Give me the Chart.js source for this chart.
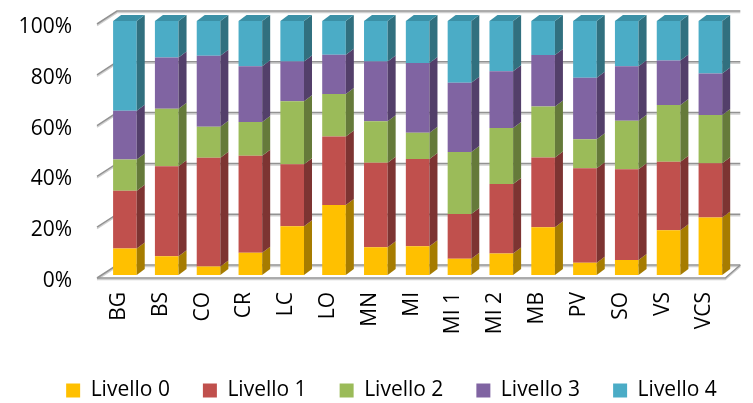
<!DOCTYPE html>
<html>
<head>
<meta charset="utf-8">
<script src="https://cdn.jsdelivr.net/npm/chart.js@4"></script>
<style>
  body { margin: 0; background: #fff; }
  #wrap { width: 753px; height: 403px; }
</style>
</head>
<body>
<div id="wrap"><canvas id="levelsCanvas"></canvas></div>
<script>
const categories = ["BG", "BS", "CO", "CR", "LC", "LO", "MN", "MI", "MI 1", "MI 2", "MB", "PV", "SO", "VS", "VCS"];
const livello0 = [10.4, 7.4, 3.3, 8.8, 19.2, 27.6, 10.9, 11.3, 6.4, 8.5, 18.8, 4.8, 5.9, 17.6, 22.6];
const livello1 = [22.8, 35.4, 42.9, 38.1, 24.4, 26.9, 33.3, 34.4, 17.6, 27.3, 27.5, 37.2, 35.7, 27.0, 21.4];
const livello2 = [12.3, 22.7, 12.2, 13.3, 24.8, 16.8, 16.3, 10.3, 24.4, 22.1, 20.0, 11.4, 19.1, 22.3, 19.0];
const livello3 = [19.2, 20.1, 27.9, 22.0, 15.7, 15.4, 23.6, 27.5, 27.3, 22.3, 20.3, 24.3, 21.5, 17.5, 16.3];
const livello4 = [35.3, 14.4, 13.7, 17.8, 15.9, 13.3, 15.9, 16.5, 24.3, 19.8, 13.4, 22.3, 17.8, 15.6, 20.7];
const yTicks = [0, 20, 40, 60, 80, 100];

const seriesNames = ["Livello 0", "Livello 1", "Livello 2", "Livello 3", "Livello 4"];
const frontColors = ["#FFC000", "#C0504D", "#9BBB59", "#8064A2", "#4BACC6"];
const sideColors = ["#A67C00", "#7D3432", "#657A3A", "#533F6A", "#31707F"];
const topColor = "#3B90A6";

const FONT = "'Open Sans', sans-serif";
const D = 8, H = 6; // bar depth offsets

// back wall + floor drawn from the y scale
function wallPath(ctx, a, ys, dy) {
  yTicks.forEach(v => {
    const py = ys.getPixelForValue(v) + dy;
    ctx.beginPath();
    ctx.moveTo(a.left - 7, py + 3);
    ctx.lineTo(a.left + 13, py - 10);
    ctx.lineTo(a.right + 9, py - 10);
    ctx.stroke();
  });
  const p0 = ys.getPixelForValue(0) + dy;
  ctx.beginPath();
  ctx.moveTo(a.left - 7, p0 + 3);
  ctx.lineTo(a.right - 6, p0 + 3);
  ctx.lineTo(a.right + 9, p0 - 10);
  ctx.stroke();
}

const wallPlugin = {
  id: 'wall',
  afterLayout(chart) {
    // nudge the legend row to the right like the original
    chart.legend.left += 16;
    chart.legend.right += 16;
  },
  beforeDatasetsDraw(chart) {
    const ctx = chart.ctx, a = chart.chartArea, ys = chart.scales.y;
    ctx.save();
    ctx.lineWidth = 1.5;
    ctx.strokeStyle = '#d0d0d0';
    wallPath(ctx, a, ys, 1.5);
    ctx.strokeStyle = '#929292';
    wallPath(ctx, a, ys, 0);
    ctx.restore();
  }
};

// side and top faces of each bar element
const depthPlugin = {
  id: 'depth',
  afterDatasetsDraw(chart) {
    const ctx = chart.ctx;
    const last = chart.data.datasets.length - 1;
    ctx.save();
    chart.data.datasets.forEach((ds, di) => {
      chart.getDatasetMeta(di).data.forEach(bar => {
        const p = bar.getProps(['x', 'y', 'base', 'width'], true);
        const x1 = p.x - p.width / 2, x2 = p.x + p.width / 2;
        ctx.fillStyle = sideColors[di];
        ctx.beginPath();
        ctx.moveTo(x2, p.y);
        ctx.lineTo(x2 + D, p.y - H);
        ctx.lineTo(x2 + D, p.base - H);
        ctx.lineTo(x2, p.base);
        ctx.closePath();
        ctx.fill();
        if (di === last) {
          ctx.fillStyle = topColor;
          ctx.beginPath();
          ctx.moveTo(x1, p.y);
          ctx.lineTo(x1 + D, p.y - H);
          ctx.lineTo(x2 + D, p.y - H);
          ctx.lineTo(x2, p.y);
          ctx.closePath();
          ctx.fill();
        }
      });
    });
    ctx.restore();
  }
};

const levels = [livello0, livello1, livello2, livello3, livello4];

new Chart(document.getElementById('levelsCanvas'), {
  type: 'bar',
  data: {
    labels: categories,
    datasets: levels.map((vals, i) => ({
      label: seriesNames[i],
      data: vals,
      backgroundColor: frontColors[i],
      borderWidth: 0,
      barPercentage: 1,
      categoryPercentage: 0.565
    }))
  },
  options: {
    responsive: true,
    maintainAspectRatio: false,
    animation: false,
    layout: { padding: { top: 21, right: 12, bottom: -8, left: 10 } },
    plugins: {
      tooltip: { enabled: false },
      legend: {
        position: 'bottom',
        labels: {
          boxWidth: 14,
          boxHeight: 14,
          padding: 33,
          color: '#000',
          font: { family: FONT, size: 21 }
        }
      }
    },
    scales: {
      x: {
        stacked: true,
        grid: { display: false, drawTicks: false },
        border: { display: false },
        afterFit(s) { s.height = 72; },
        ticks: {
          autoSkip: false,
          minRotation: 90,
          maxRotation: 90,
          padding: 17,
          labelOffset: -6,
          color: '#000',
          font: { family: FONT, size: 21 }
        }
      },
      y: {
        stacked: true,
        min: 0,
        max: 100,
        grid: { display: false, drawTicks: false },
        border: { display: false },
        afterFit(s) {
          s.width = 94;
          s.paddingTop = 0;
          s.paddingBottom = 0;
        },
        ticks: {
          stepSize: 20,
          padding: 32,
          labelOffset: 6,
          color: '#000',
          font: { family: FONT, size: 21 },
          callback: v => v + '%'
        }
      }
    }
  },
  plugins: [wallPlugin, depthPlugin]
});
</script>
</body>
</html>
